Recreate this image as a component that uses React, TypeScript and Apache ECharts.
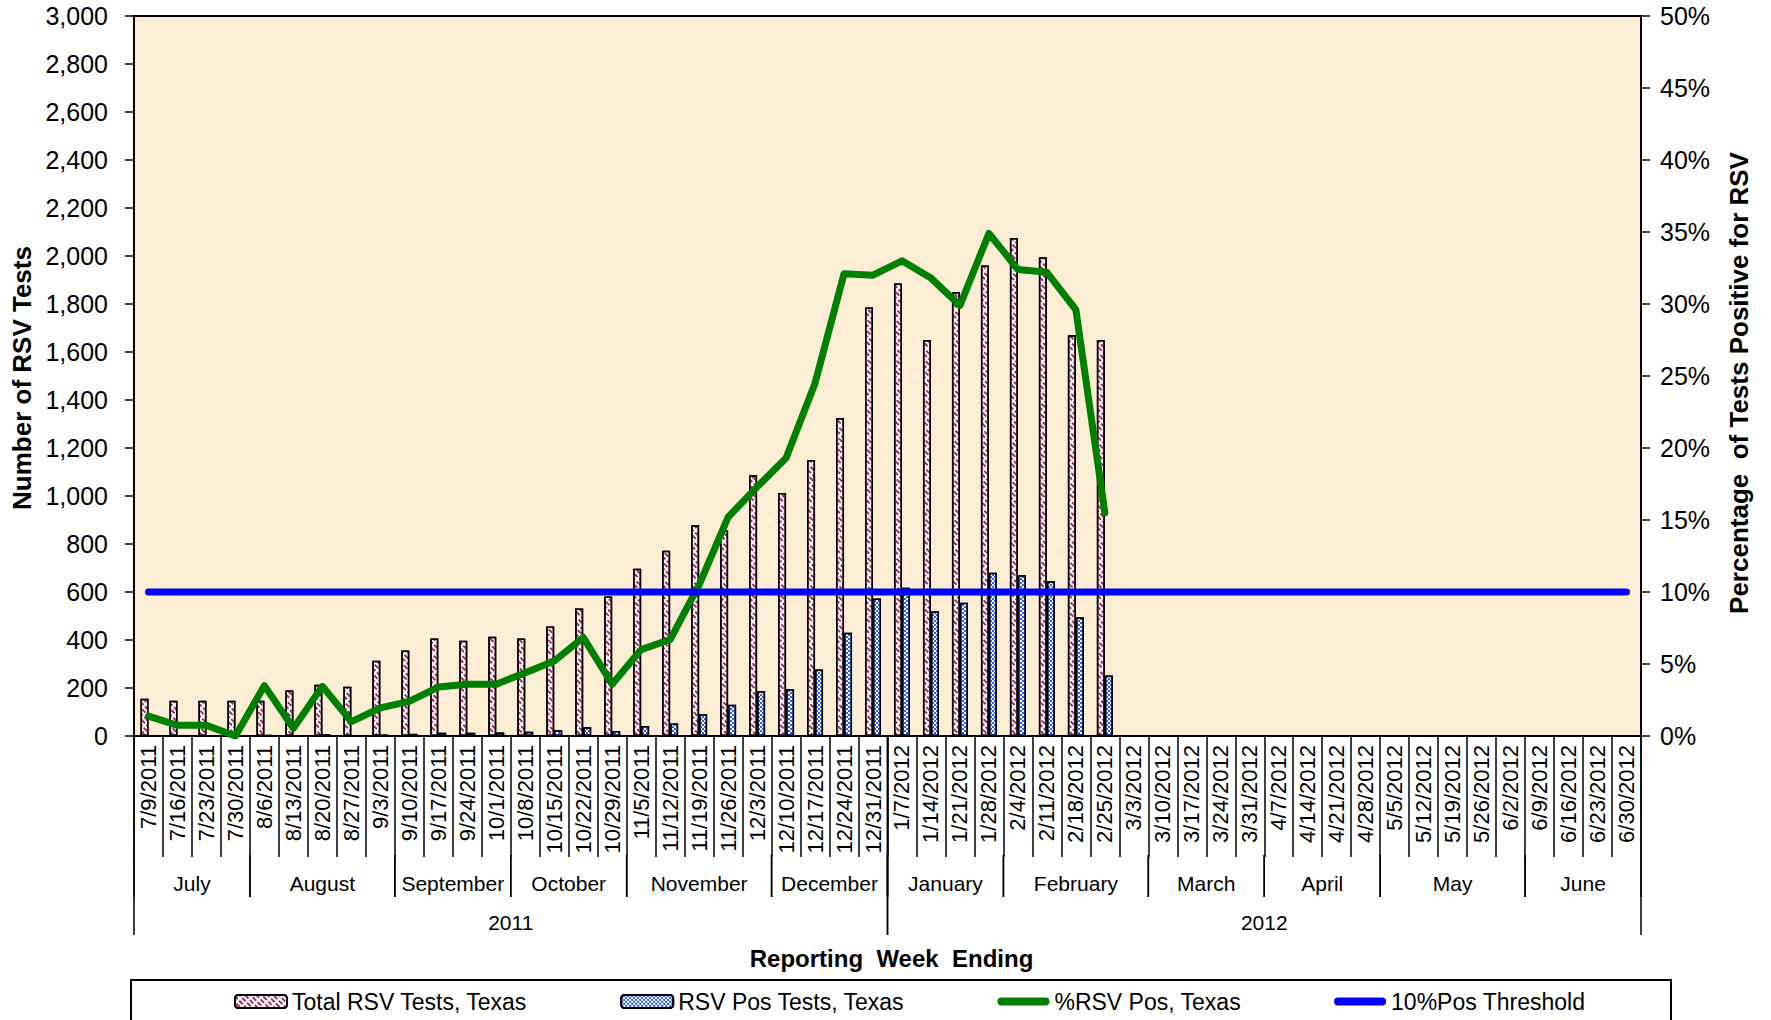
import React, { useEffect, useRef } from "react";
import * as echarts from "echarts";

const weeks = [
  "7/9/2011", "7/16/2011", "7/23/2011", "7/30/2011",
  "8/6/2011", "8/13/2011", "8/20/2011", "8/27/2011", "9/3/2011",
  "9/10/2011", "9/17/2011", "9/24/2011", "10/1/2011",
  "10/8/2011", "10/15/2011", "10/22/2011", "10/29/2011",
  "11/5/2011", "11/12/2011", "11/19/2011", "11/26/2011", "12/3/2011",
  "12/10/2011", "12/17/2011", "12/24/2011", "12/31/2011",
  "1/7/2012", "1/14/2012", "1/21/2012", "1/28/2012",
  "2/4/2012", "2/11/2012", "2/18/2012", "2/25/2012", "3/3/2012",
  "3/10/2012", "3/17/2012", "3/24/2012", "3/31/2012",
  "4/7/2012", "4/14/2012", "4/21/2012", "4/28/2012",
  "5/5/2012", "5/12/2012", "5/19/2012", "5/26/2012", "6/2/2012",
  "6/9/2012", "6/16/2012", "6/23/2012", "6/30/2012",
];

const totalTests = [
  155, 147, 147, 147, 147, 190, 214, 205, 314, 356, 406, 397, 414, 406, 456, 531,
  581, 697, 772, 878, 856, 1086, 1012, 1150, 1325, 1785, 1885, 1650, 1850, 1960,
  2075, 1995, 1670, 1650,
  null, null, null, null, null, null, null, null, null, null, null, null, null,
  null, null, null, null, null,
];

const posTests = [
  2, 1, 1, 0, 5, 1, 7, 2, 6, 9, 14, 14, 15, 18, 24, 36, 21, 42, 52, 92, 130, 188,
  195, 277, 430, 573, 618, 520, 555, 680, 670, 645, 495, 252,
  null, null, null, null, null, null, null, null, null, null, null, null, null,
  null, null, null, null, null,
];

const pctPos = [
  1.38, 0.74, 0.74, 0.0, 3.5, 0.53, 3.45, 1.0, 1.95, 2.4, 3.4, 3.6, 3.6, 4.4, 5.2,
  6.85, 3.6, 6.0, 6.7, 10.5, 15.2, 17.3, 19.3, 24.5, 32.1, 32.0, 33.0, 31.8, 29.9,
  34.9, 32.4, 32.2, 29.6, 15.5,
  null, null, null, null, null, null, null, null, null, null, null, null, null,
  null, null, null, null, null,
];

const threshold = [
  10, 10, 10, 10, 10, 10, 10, 10, 10, 10, 10, 10, 10, 10, 10, 10, 10, 10, 10, 10,
  10, 10, 10, 10, 10, 10, 10, 10, 10, 10, 10, 10, 10, 10, 10, 10, 10, 10, 10, 10,
  10, 10, 10, 10, 10, 10, 10, 10, 10, 10, 10, 10,
];

const monthNames = [
  "July", "August", "September", "October", "November", "December",
  "January", "February", "March", "April", "May", "June",
];
const monthWeekCounts = [4, 5, 4, 4, 5, 4, 4, 5, 4, 4, 5, 4];

const yearNames = ["2011", "2012"];
const yearWeekCounts = [26, 26];

const seriesNames = [
  "Total RSV Tests, Texas",
  "RSV Pos Tests, Texas",
  "%RSV Pos, Texas",
  "10%Pos Threshold",
];

const FONT = '"Liberation Sans", Arial, Helvetica, sans-serif';
const LINE_ICON = "path://M4,0 L48,0 A4,4 0 0 1 48,8 L4,8 A4,4 0 0 1 4,0 Z";

export default function App() {
  const ref = useRef<HTMLDivElement>(null);

  useEffect(() => {
    if (!ref.current) return;
    const chart = echarts.init(ref.current, null, { renderer: "svg" });

    const option: any = {
      animation: false,
      backgroundColor: "#ffffff",
      textStyle: { fontFamily: FONT, color: "#000" },
      grid: {
        left: 134,
        right: 130,
        top: 16,
        bottom: 284,
        show: true,
        backgroundColor: "#FBEED4",
        borderColor: "#000",
        borderWidth: 2,
      },
      legend: {
        left: 229,
        top: 985,
        itemWidth: 52,
        itemHeight: 13,
        itemGap: 93,
        textStyle: { fontSize: 23, color: "#000", fontFamily: FONT },
        data: [
          { name: seriesNames[0] },
          { name: seriesNames[1] },
          { name: seriesNames[2], icon: LINE_ICON, itemStyle: { color: "#008000", borderWidth: 0 } },
          { name: seriesNames[3], icon: LINE_ICON, itemStyle: { color: "#0000FF", borderWidth: 0 } },
        ],
      },
      xAxis: {
        type: "category",
        data: weeks,
        boundaryGap: true,
        axisLine: { show: true, lineStyle: { color: "#000", width: 2 } },
        axisTick: {
          show: true,
          interval: 0,
          length: 121,
          lineStyle: { color: "#000", width: 1.5 },
        },
        axisLabel: {
          interval: 0,
          rotate: 90,
          fontSize: 22,
          margin: 9,
          color: "#000",
          fontFamily: FONT,
        },
        splitLine: { show: false },
      },
      yAxis: [
        {
          type: "value",
          min: 0,
          max: 3000,
          interval: 200,
          axisLine: { show: true, lineStyle: { color: "#000", width: 2 } },
          axisTick: { show: true, length: 9, lineStyle: { color: "#000", width: 1.5 } },
          axisLabel: {
            fontSize: 25,
            margin: 26,
            color: "#000",
            fontFamily: FONT,
            formatter: (v: number) => v.toLocaleString("en-US"),
          },
          splitLine: { show: false },
        },
        {
          type: "value",
          min: 0,
          max: 50,
          interval: 5,
          position: "right",
          axisLine: { show: true, lineStyle: { color: "#000", width: 2 } },
          axisTick: { show: true, length: 9, lineStyle: { color: "#000", width: 1.5 } },
          axisLabel: {
            fontSize: 25,
            margin: 19,
            color: "#000",
            fontFamily: FONT,
            formatter: "{value}%",
          },
          splitLine: { show: false },
        },
      ],
      series: [
        {
          name: seriesNames[0],
          type: "bar",
          data: totalTests,
          barWidth: 8,
          barGap: "0%",
          itemStyle: {
            color: "#ffffff",
            borderColor: "#000",
            borderWidth: 1.5,
            decal: {
              symbol: "rect",
              symbolSize: 1,
              color: "#A02E62",
              dashArrayX: [5, 2],
              dashArrayY: [2, 2],
              rotation: Math.PI / 4,
            },
          },
        },
        {
          name: seriesNames[1],
          type: "bar",
          data: posTests,
          barWidth: 8,
          barGap: "0%",
          itemStyle: {
            color: "#ffffff",
            borderColor: "#000",
            borderWidth: 1.5,
            decal: {
              symbol: "rect",
              symbolSize: 1,
              color: "#2A5CFF",
              dashArrayX: [[2, 2], [0, 2, 2, 0]],
              dashArrayY: [2, 0],
              rotation: 0,
            },
          },
        },
        {
          name: seriesNames[2],
          type: "line",
          yAxisIndex: 1,
          data: pctPos,
          symbol: "none",
          showSymbol: false,
          symbolKeepAspect: true,
          connectNulls: false,
          lineStyle: { color: "#008000", width: 7, cap: "round", join: "round" },
          itemStyle: { color: "#008000" },
          z: 5,
        },
        {
          name: seriesNames[3],
          type: "line",
          yAxisIndex: 1,
          data: threshold,
          symbol: "none",
          showSymbol: false,
          symbolKeepAspect: true,
          lineStyle: { color: "#0000FF", width: 7, cap: "round" },
          itemStyle: { color: "#0000FF" },
          z: 6,
        },
      ],
    };

    chart.setOption(option);

    // Multi-level category axis decorations, placed through the library's scale
    const cx = (i: number) => chart.convertToPixel({ xAxisIndex: 0 }, i) as number;
    const band = cx(1) - cx(0);
    const boundary = (i: number) => {
      if (i <= 0) return cx(0) - band / 2;
      if (i >= weeks.length) return cx(weeks.length - 1) + band / 2;
      return (cx(i - 1) + cx(i)) / 2;
    };
    const y0 = chart.convertToPixel({ yAxisIndex: 0 }, 0) as number;
    const yTop = chart.convertToPixel({ yAxisIndex: 0 }, 3000) as number;
    const dateBottom = y0 + 121;
    const monthBottom = y0 + 161;
    const yearBottom = y0 + 199;

    const graphics: any[] = [];
    const line = (x: number, y1: number, y2: number) => ({
      type: "line",
      shape: { x1: x, y1, x2: x, y2 },
      style: { stroke: "#000", lineWidth: 1.5 },
      silent: true,
    });
    const text = (t: string, x: number, y: number, size: number, bold = false, rotation = 0) => ({
      type: "text",
      x,
      y,
      rotation,
      style: {
        text: t,
        fill: "#000",
        fontSize: size,
        fontFamily: FONT,
        fontWeight: bold ? "bold" : "normal",
        align: "center",
        verticalAlign: "middle",
      },
      silent: true,
    });

    let start = 0;
    monthNames.forEach((m, k) => {
      const end = start + monthWeekCounts[k];
      graphics.push(line(boundary(start), dateBottom - 2, monthBottom));
      graphics.push(line(boundary(end), dateBottom - 2, monthBottom));
      graphics.push(text(m, (boundary(start) + boundary(end)) / 2, y0 + 147, 21));
      start = end;
    });
    start = 0;
    yearNames.forEach((yName, k) => {
      const end = start + yearWeekCounts[k];
      graphics.push(line(boundary(start), y0, yearBottom));
      graphics.push(line(boundary(end), y0, yearBottom));
      graphics.push(text(yName, (boundary(start) + boundary(end)) / 2, y0 + 186, 21));
      start = end;
    });

    const xMid = (boundary(0) + boundary(weeks.length)) / 2;
    graphics.push(text("Reporting  Week  Ending", xMid + 4, y0 + 222, 24, true));
    const yMid = (y0 + yTop) / 2;
    graphics.push(text("Number of RSV Tests", 22, yMid + 2, 26, true, Math.PI / 2));
    graphics.push(
      text("Percentage  of Tests Positive for RSV", 1739, yMid + 7, 26, true, Math.PI / 2)
    );
    graphics.push({
      type: "rect",
      shape: { x: 131, y: 980, width: 1540, height: 60 },
      style: { fill: "none", stroke: "#000", lineWidth: 2 },
      silent: true,
      z: -1,
    });

    chart.setOption({ graphic: graphics });

    return () => chart.dispose();
  }, []);

  return (
    <div
      ref={ref}
      style={{ position: "fixed", left: 0, top: 0, width: 1771, height: 1020 }}
    />
  );
}
